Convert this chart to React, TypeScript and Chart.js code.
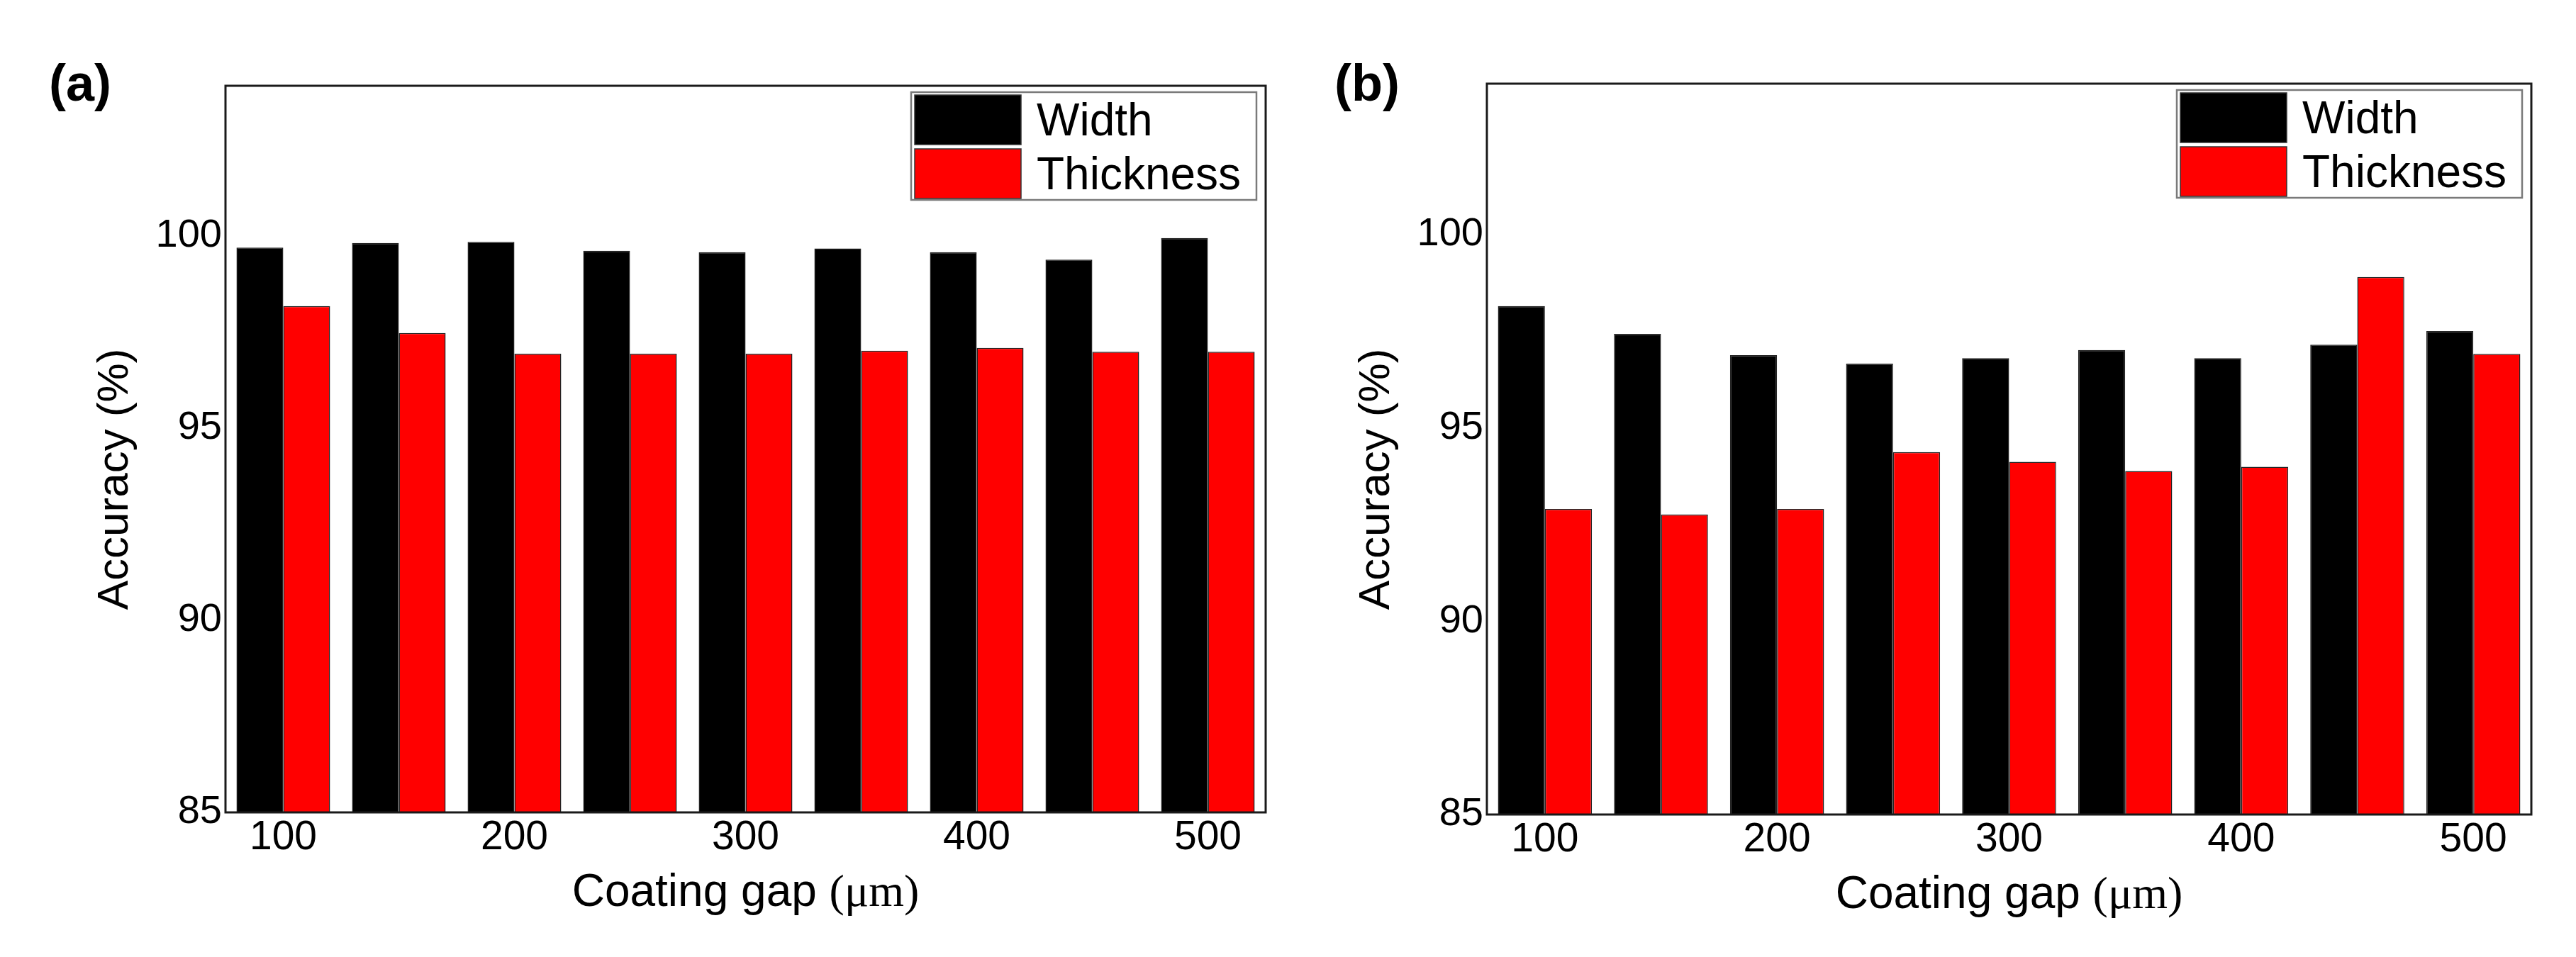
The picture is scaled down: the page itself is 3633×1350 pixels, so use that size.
import React, { useEffect, useRef } from 'react';
import { Chart, registerables } from 'chart.js';

Chart.register(...registerables);

// ---- data ----
const categories = ['100', '150', '200', '250', '300', '350', '400', '450', '500'];
const xTickLabels = ['100', '200', '300', '400', '500'];
const yTickValues = [85, 90, 95, 100];
const seriesNames = ['Width', 'Thickness'];
const seriesColors = ['#000000', '#ff0000'];

const widthA = [99.69, 99.81, 99.84, 99.61, 99.57, 99.67, 99.57, 99.38, 99.94];
const thicknessA = [98.17, 97.47, 96.93, 96.93, 96.93, 97.01, 97.08, 96.98, 96.98];

const widthB = [98.15, 97.43, 96.88, 96.66, 96.8, 97.01, 96.8, 97.15, 97.5];
const thicknessB = [92.9, 92.76, 92.9, 94.37, 94.12, 93.88, 93.99, 98.9, 96.91];

const yMin = 85;
const yMax = 103.9;

const SANS = '"Liberation Sans", Arial, Helvetica, sans-serif';
const SERIF = '"Liberation Serif", "Times New Roman", serif';

type Panel = {
  key: string;
  label: string;
  left: number;
  width: number;
  plotLeft: number;
  plotRight: number;
  plotTop: number;
  plotBottom: number;
  labelX: number;
  series: number[][];
};

const H = 1350;

const panels: Panel[] = [
  {
    key: 'a',
    label: '(a)',
    left: 0,
    width: 1816,
    plotLeft: 318,
    plotRight: 1785,
    plotTop: 121,
    plotBottom: 1146,
    labelX: 69,
    series: [widthA, thicknessA],
  },
  {
    key: 'b',
    label: '(b)',
    left: 1816,
    width: 1817,
    plotLeft: 2097 - 1816,
    plotRight: 3570 - 1816,
    plotTop: 118,
    plotBottom: 1149,
    labelX: 1882 - 1816,
    series: [widthB, thicknessB],
  },
];

const decorPlugin = {
  id: 'decor',
  afterDatasetsDraw(chart: any) {
    const { ctx, chartArea: ca } = chart;
    ctx.save();
    // frame
    ctx.strokeStyle = '#1a1a1a';
    ctx.lineWidth = 3;
    ctx.strokeRect(ca.left, ca.top, ca.right - ca.left, ca.bottom - ca.top);

    // legend
    const boxW = 487;
    const boxH = 152;
    const right = ca.right - 13;
    const left = right - boxW;
    const top = ca.top + 9;
    ctx.fillStyle = '#ffffff';
    ctx.fillRect(left, top, boxW, boxH);
    ctx.strokeStyle = '#7a7a7a';
    ctx.lineWidth = 2.5;
    ctx.strokeRect(left, top, boxW, boxH);
    const rowH = 70;
    const rows = [top + 4, top + 80];
    chart.data.datasets.forEach((ds: any, i: number) => {
      const ry = rows[i];
      ctx.fillStyle = ds.backgroundColor;
      ctx.fillRect(left + 5, ry, 150, rowH);
      ctx.strokeStyle = '#333333';
      ctx.lineWidth = 1.5;
      ctx.strokeRect(left + 5, ry, 150, rowH);
      ctx.fillStyle = '#000000';
      ctx.font = `64px ${SANS}`;
      ctx.textAlign = 'left';
      ctx.textBaseline = 'alphabetic';
      ctx.fillText(ds.label, left + 177, ry + rowH / 2 + 22);
    });
    ctx.restore();
  },
  afterDraw(chart: any, _args: any, opts: any) {
    const { ctx, chartArea: ca } = chart;
    ctx.save();
    ctx.fillStyle = '#000000';
    // panel label
    ctx.font = `bold 72px ${SANS}`;
    ctx.textAlign = 'left';
    ctx.textBaseline = 'alphabetic';
    ctx.fillText(opts.label, opts.labelX, 142);

    // y title
    ctx.save();
    ctx.translate(ca.left - 155, 676);
    ctx.rotate(-Math.PI / 2);
    ctx.font = `62px ${SANS}`;
    ctx.textAlign = 'center';
    ctx.textBaseline = 'middle';
    ctx.fillText('Accuracy (%)', 0, 0);
    ctx.restore();

    // x title with mixed fonts
    const part1 = 'Coating gap ';
    const part2 = '(\u03bcm)';
    ctx.font = `64px ${SANS}`;
    const w1 = ctx.measureText(part1).width;
    ctx.font = `64px ${SERIF}`;
    const w2 = ctx.measureText(part2).width;
    const cx = (ca.left + ca.right) / 2;
    const x0 = cx - (w1 + w2) / 2;
    const by = ca.bottom + 132;
    ctx.textAlign = 'left';
    ctx.textBaseline = 'alphabetic';
    ctx.font = `64px ${SANS}`;
    ctx.fillText(part1, x0, by);
    ctx.font = `64px ${SERIF}`;
    ctx.fillText(part2, x0 + w1, by);
    ctx.restore();
  },
};

function PanelChart({ p }: { p: Panel }) {
  const ref = useRef<HTMLCanvasElement | null>(null);
  useEffect(() => {
    if (!ref.current) return;
    const chart = new Chart(ref.current, {
      type: 'bar',
      data: {
        labels: categories,
        datasets: p.series.map((vals, i) => ({
          label: seriesNames[i],
          data: vals,
          backgroundColor: seriesColors[i],
          borderColor: '#222222',
          borderWidth: 1.5,
          base: yMin,
          categoryPercentage: 0.81,
          barPercentage: 1.0,
        })),
      },
      options: {
        animation: false,
        responsive: false,
        devicePixelRatio: 1,
        layout: {
          padding: {
            left: 0,
            right: p.width - p.plotRight,
            top: p.plotTop,
            bottom: 0,
          },
        },
        plugins: {
          legend: { display: false },
          tooltip: { enabled: false },
          title: { display: false },
          decor: { label: p.label, labelX: p.labelX },
        } as any,
        scales: {
          x: {
            type: 'category',
            grid: { display: false, drawTicks: false },
            border: { display: false },
            ticks: {
              autoSkip: false,
              maxRotation: 0,
              minRotation: 0,
              padding: 2,
              color: '#000000',
              font: { family: SANS, size: 57 },
              callback: function (this: any, value: any) {
                const l = this.getLabelForValue(value);
                return xTickLabels.includes(l) ? l : '';
              },
            },
            afterFit: (scale: any) => {
              scale.height = H - p.plotBottom;
            },
          },
          y: {
            type: 'linear',
            min: yMin,
            max: yMax,
            grid: { display: false, drawTicks: false },
            border: { display: false },
            ticks: {
              stepSize: 5,
              includeBounds: false,
              padding: 5,
              color: '#000000',
              font: { family: SANS, size: 56 },
              callback: (v: any) => (yTickValues.includes(Number(v)) ? String(v) : ''),
            },
            afterFit: (scale: any) => {
              scale.width = p.plotLeft;
            },
          },
        },
      } as any,
      plugins: [decorPlugin as any],
    });
    return () => chart.destroy();
  }, [p]);
  return (
    <canvas
      ref={ref}
      width={p.width}
      height={H}
      style={{ position: 'absolute', left: p.left, top: 0, width: p.width, height: H }}
    />
  );
}

export default function App() {
  return (
    <div
      style={{
        position: 'absolute',
        left: 0,
        top: 0,
        width: 3633,
        height: H,
        background: '#ffffff',
        overflow: 'hidden',
      }}
    >
      {panels.map((p) => (
        <PanelChart key={p.key} p={p} />
      ))}
    </div>
  );
}
